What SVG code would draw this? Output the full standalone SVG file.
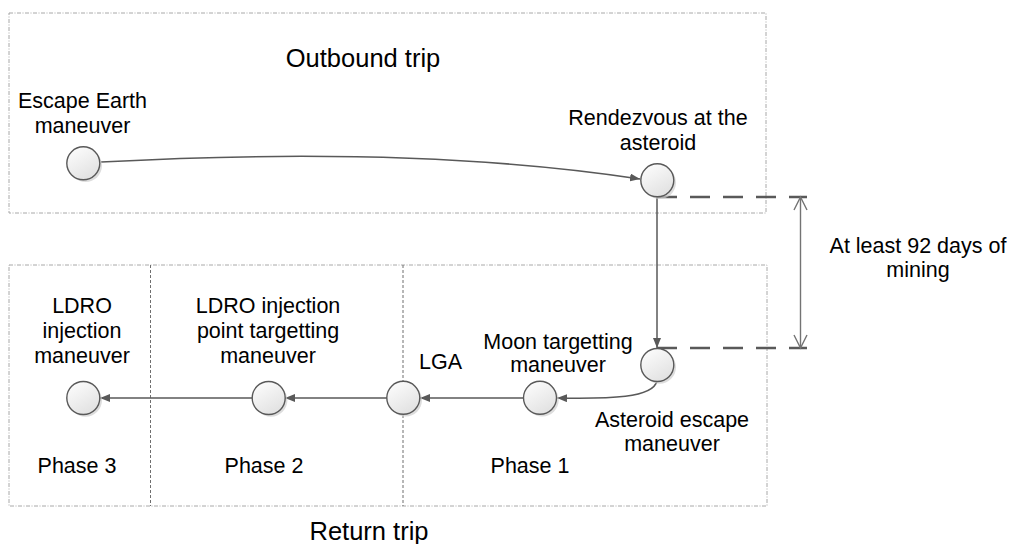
<svg xmlns="http://www.w3.org/2000/svg" width="1011" height="544" viewBox="0 0 1011 544">
<style>
.box{fill:none;stroke:#a8a8a8;stroke-width:1;stroke-dasharray:4,1.5,1,1.5}
.div{fill:none;stroke:#6e6e6e;stroke-width:1;stroke-dasharray:3,2}
.conn{fill:none;stroke:#595959;stroke-width:1.5}
.dash{fill:none;stroke:#595959;stroke-width:2.3;stroke-dasharray:20,13}
.dim{fill:none;stroke:#737373;stroke-width:1.4}
.node{fill:url(#g);stroke:#595959;stroke-width:1.4}
.sh{fill:#cfcfcf;opacity:0.7}
text{font-family:"Liberation Sans",Arial,sans-serif;font-size:21.5px;fill:#000;text-anchor:middle}
.title{font-size:25.5px}
</style>
<defs>
<linearGradient id="g" x1="0" y1="0" x2="0.6" y2="1">
<stop offset="0" stop-color="#ffffff"/>
<stop offset="1" stop-color="#e2e2e2"/>
</linearGradient>
<marker id="a" viewBox="0 0 10 8" refX="10" refY="4" markerWidth="10" markerHeight="8" markerUnits="userSpaceOnUse" orient="auto">
<path d="M0,0 L10,4 L0,8 Z" fill="#595959"/>
</marker>
</defs>

<g id="outbound">
<rect class="box" x="9" y="13" width="757" height="200"/>
<text class="title" x="363" y="67">Outbound trip</text>
</g>
<g id="return">
<rect class="box" x="9" y="265" width="758" height="241"/>
<line class="div" x1="150.5" y1="265" x2="150.5" y2="506"/>
<line class="div" x1="403" y1="265" x2="403" y2="506"/>
<text x="77" y="473">Phase 3</text>
<text x="264" y="473">Phase 2</text>
<text x="530" y="473">Phase 1</text>
<text class="title" x="369" y="540">Return trip</text>
</g>

<g id="connectors">
<path class="conn" d="M101,162 C250,154 450,150 640,179" marker-end="url(#a)"/>
<line class="conn" x1="657" y1="197" x2="657" y2="348" marker-end="url(#a)"/>
<path class="conn" d="M657,381 C653,398 610,399 557,398" marker-end="url(#a)"/>
<line class="conn" x1="524" y1="398" x2="420" y2="398" marker-end="url(#a)"/>
<line class="conn" x1="387" y1="398" x2="285" y2="398" marker-end="url(#a)"/>
<line class="conn" x1="252" y1="398" x2="100" y2="398" marker-end="url(#a)"/>
<line class="dash" x1="657" y1="197" x2="807" y2="197"/>
<line class="dash" x1="657" y1="348" x2="807" y2="348"/>
<line class="dim" x1="800.5" y1="197" x2="800.5" y2="348"/>
<polyline class="dim" points="794,210 800.5,197 807,210"/>
<polyline class="dim" points="794,335 800.5,348 807,335"/>
</g>

<g id="escape-earth">
<circle class="sh" cx="85.5" cy="165.5" r="16.5"/>
<circle class="node" cx="83.3" cy="163.3" r="16.5"/>
<text x="82.5" y="108">Escape Earth</text>
<text x="82.5" y="132.5">maneuver</text>
</g>
<g id="rendezvous">
<circle class="sh" cx="659.5" cy="182.5" r="16.5"/>
<circle class="node" cx="657.3" cy="180.3" r="16.5"/>
<text x="658" y="124.5">Rendezvous at the</text>
<text x="658" y="149.5">asteroid</text>
</g>
<g id="asteroid-escape">
<circle class="sh" cx="659.5" cy="367.2" r="16.5"/>
<circle class="node" cx="657.3" cy="365" r="16.5"/>
<text x="672" y="427">Asteroid escape</text>
<text x="672" y="451">maneuver</text>
</g>
<g id="moon-targetting">
<circle class="sh" cx="542.2" cy="400" r="16.5"/>
<circle class="node" cx="540" cy="397.8" r="16.5"/>
<text x="558" y="349">Moon targetting</text>
<text x="558" y="372">maneuver</text>
</g>
<g id="lga">
<circle class="sh" cx="405.5" cy="400" r="16.5"/>
<circle class="node" cx="403.3" cy="397.8" r="16.5"/>
<text x="440.5" y="369">LGA</text>
</g>
<g id="ldro-point">
<circle class="sh" cx="270.9" cy="400.2" r="16.5"/>
<circle class="node" cx="268.7" cy="398" r="16.5"/>
<text x="268" y="313">LDRO injection</text>
<text x="268" y="338">point targetting</text>
<text x="268" y="362.5">maneuver</text>
</g>
<g id="ldro-injection">
<circle class="sh" cx="85.5" cy="400.2" r="16.5"/>
<circle class="node" cx="83.3" cy="398" r="16.5"/>
<text x="82" y="313">LDRO</text>
<text x="82" y="338">injection</text>
<text x="82" y="362.5">maneuver</text>
</g>
<g id="mining-label">
<text x="918" y="253">At least 92 days of</text>
<text x="918" y="277">mining</text>
</g>
</svg>
